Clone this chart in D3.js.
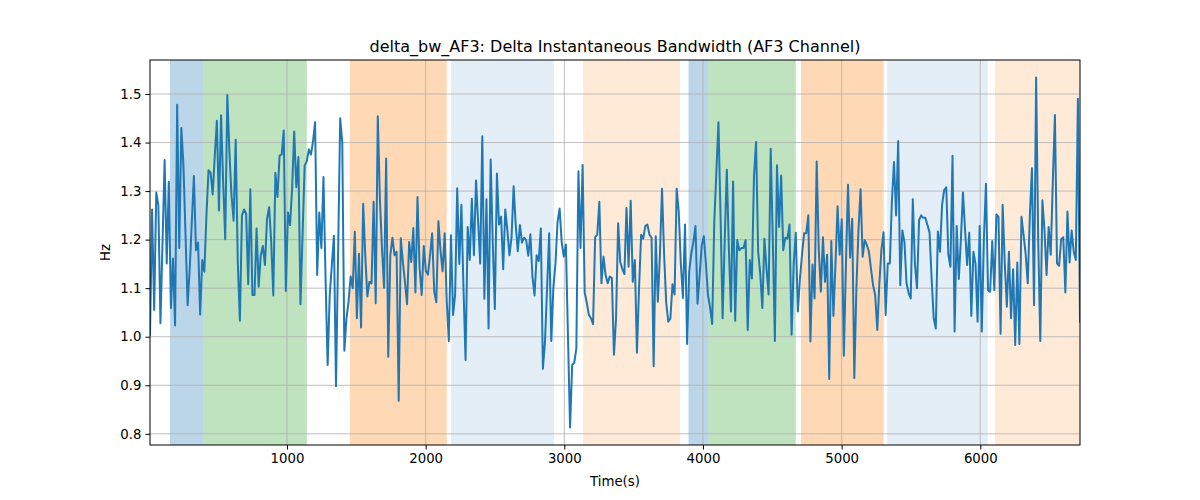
<!DOCTYPE html>
<html>
<head>
<meta charset="utf-8">
<script src="https://cdn.jsdelivr.net/npm/d3@7"></script>
<style>
  body { margin: 0; background: #fff; }
  svg { display: block; font-family: "DejaVu Sans", sans-serif; }
</style>
</head>
<body>
<svg id="chart" width="1200" height="500"></svg>
<script>
const title = "delta_bw_AF3: Delta Instantaneous Bandwidth (AF3 Channel)";
const xLabel = "Time(s)";
const yLabel = "Hz";
const xTicks = [1000, 2000, 3000, 4000, 5000, 6000];
const yTicks = [0.8, 0.9, 1.0, 1.1, 1.2, 1.3, 1.4, 1.5];
const timeStart = 12;
const timeEnd = 6719;

const values = [
  1.004, 1.262, 1.055, 1.297, 1.271, 1.028, 1.195, 1.364, 1.151, 1.319, 1.059, 1.161, 1.023, 1.478, 1.183, 1.430, 1.353, 1.209, 1.065, 1.14,
  1.236, 1.331, 1.178, 1.194, 1.046, 1.158, 1.134, 1.25, 1.343, 1.338, 1.293, 1.373, 1.445, 1.26, 1.456, 1.319, 1.201, 1.498, 1.38, 1.291,
  1.239, 1.406, 1.154, 1.033, 1.25, 1.262, 1.254, 1.108, 1.304, 1.086, 1.086, 1.223, 1.103, 1.168, 1.187, 1.148, 1.243, 1.267, 1.195, 1.085,
  1.338, 1.288, 1.373, 1.375, 1.425, 1.094, 1.256, 1.23, 1.305, 1.423, 1.308, 1.37, 1.067,
  1.21, 1.353, 1.361, 1.386, 1.375, 1.402, 1.442, 1.127, 1.256, 1.183, 1.329, 1.12, 0.942, 1.086, 1.147, 1.208, 0.898, 1.17, 1.45, 1.40,
  0.971, 1.038, 1.072, 1.124, 1.10, 1.216, 1.038, 1.171, 1.019, 1.274, 1.168, 1.083, 1.113, 1.11, 1.278, 1.069, 1.454, 1.284, 1.182, 1.101,
  1.367, 0.959, 1.168, 1.204, 1.168, 1.175, 0.868, 1.203, 1.154, 1.113, 1.067, 1.195, 1.154, 1.224, 1.091, 1.288, 1.141, 1.086, 1.187, 1.135,
  1.128, 1.168, 1.213, 1.093, 1.071, 1.238, 1.178, 1.135, 1.213, 1.072, 0.991, 1.209,
  1.045, 1.086, 1.306, 1.15, 1.272, 1.10, 0.952, 1.226, 1.158, 1.284, 1.168, 1.322, 1.237, 1.151, 1.413, 1.078, 1.283, 1.017, 1.365, 1.195,
  1.057, 1.336, 1.231, 1.247, 1.139, 1.262, 1.219, 1.168, 1.205, 1.31, 1.23, 1.176, 1.23, 1.194, 1.204, 1.199, 1.167, 1.211, 1.124, 1.085,
  1.168, 1.156, 1.223, 0.934, 0.99, 1.10, 1.213, 0.991, 1.10, 1.15, 1.236, 1.264, 1.195, 1.165, 1.19, 1.0, 0.813, 0.942, 0.946, 0.976,
  1.341, 1.183, 1.354, 1.091, 1.07, 1.045, 1.038, 1.026, 1.205, 1.21, 1.278, 1.11,
  1.165, 1.127, 1.11, 1.124, 1.121, 0.963, 1.038, 1.234, 1.154, 1.14, 1.129, 1.265, 1.144, 1.28, 1.113, 1.158, 0.967, 1.10, 1.21, 1.202,
  1.228, 1.231, 1.21, 1.204, 0.939, 1.207, 1.072, 1.17, 1.305, 1.17, 1.07, 1.031, 1.037, 1.108, 1.087, 1.305, 1.257, 1.15, 1.08, 1.231,
  0.985, 1.134, 1.171, 1.195, 1.228, 1.068, 1.127, 1.188, 1.207, 1.15, 1.086, 1.06, 1.026, 1.236, 1.339, 1.442, 1.25, 1.038, 1.2, 1.344,
  1.18, 1.052, 1.32, 1.033, 1.199, 1.178, 1.183, 1.183, 1.199, 1.014, 1.158, 1.12,
  1.33, 1.401, 1.175, 1.13, 1.059, 1.202, 1.14, 1.087, 1.387, 1.2, 0.991, 1.353, 1.226, 1.332, 1.178, 1.204, 1.202, 1.231, 1.004, 1.15,
  1.214, 1.052, 1.12, 1.17, 1.213, 1.213, 1.25, 0.99, 1.149, 1.079, 1.361, 1.18, 1.093, 1.205, 1.113, 1.169, 0.913, 1.197, 1.043, 1.15,
  1.269, 1.169, 1.242, 0.961, 1.15, 1.313, 1.163, 1.243, 0.915, 1.10, 1.22, 1.304, 1.165, 1.199, 1.189, 1.175, 1.14, 1.106, 1.086, 1.014,
  1.11, 1.18, 1.215, 1.045, 1.151, 1.151, 1.28, 1.36, 1.25, 1.403, 1.106, 1.219,
  1.195, 1.11, 1.09, 1.079, 1.283, 1.15, 1.10, 1.24, 1.25, 1.245, 1.245, 1.23, 1.215, 1.12, 1.038, 1.017, 1.217, 1.175, 1.271, 1.302,
  1.308, 1.169, 1.144, 1.373, 1.011, 1.228, 1.119, 1.2, 1.297, 1.22, 1.148, 1.214, 1.043, 1.175, 1.15, 1.031, 1.228, 1.011, 1.2, 1.315,
  1.096, 1.093, 1.197, 1.096, 1.252, 1.247, 1.006, 1.272, 1.15, 1.062, 1.175, 1.038, 1.139, 0.983, 1.153, 0.985, 1.247, 1.21, 1.17, 1.11,
  1.25, 1.347, 1.065, 1.534, 1.2, 0.991, 1.281, 1.22, 1.127, 1.226, 1.169, 1.32, 1.457, 1.151, 1.146, 1.201, 1.205, 1.091, 1.258, 1.153,
  1.219, 1.175, 1.158, 1.49, 1.031
];

const spanStarts = [156, 394, 1453, 2183, 3135, 3896, 4039, 4707, 5329, 6106];
const spanEnds   = [394, 1143, 2152, 2926, 3834, 4039, 4669, 5303, 6053, 6730];
const spanKinds  = ["blue", "green", "orange", "lightblue", "lightorange", "blue", "green", "orange", "lightblue", "lightorange"];

const spanFill = {
  blue: "rgba(31,119,180,0.3)",
  green: "rgba(44,160,44,0.3)",
  orange: "rgba(255,127,14,0.3)",
  lightblue: "rgba(31,119,180,0.12)",
  lightorange: "rgba(255,127,14,0.16)"
};

const W = 1200, H = 500;
const m = { left: 150, right: 120, top: 60, bottom: 55 };
const iw = W - m.left - m.right, ih = H - m.top - m.bottom;

const n = values.length;
const data = values.map((v, i) => ({ t: timeStart + (timeEnd - timeStart) * i / (n - 1), v }));

const x = d3.scaleLinear().domain([timeStart, timeEnd]).range([0, iw]);
const yMin = d3.min(values), yMax = d3.max(values), pad = (yMax - yMin) * 0.05;
const y = d3.scaleLinear().domain([yMin - pad, yMax + pad]).range([ih, 0]);

const svg = d3.select("#chart");
const g = svg.append("g").attr("transform", `translate(${m.left},${m.top})`);

g.append("defs").append("clipPath").attr("id", "clip")
  .append("rect").attr("width", iw).attr("height", ih);

const spans = spanStarts.map((s, i) => ({ s, e: spanEnds[i], k: spanKinds[i] }));
g.append("g").attr("clip-path", "url(#clip)").selectAll("rect").data(spans).join("rect")
  .attr("x", d => x(d.s)).attr("width", d => x(d.e) - x(d.s))
  .attr("y", 0).attr("height", ih)
  .attr("fill", d => spanFill[d.k]);

// grid
g.append("g").selectAll("line").data(xTicks).join("line")
  .attr("x1", d => x(d)).attr("x2", d => x(d)).attr("y1", 0).attr("y2", ih)
  .attr("stroke", "#b0b0b0").attr("stroke-width", 0.8);
g.append("g").selectAll("line").data(yTicks).join("line")
  .attr("y1", d => y(d)).attr("y2", d => y(d)).attr("x1", 0).attr("x2", iw)
  .attr("stroke", "#b0b0b0").attr("stroke-width", 0.8);

// line
g.append("path").datum(data)
  .attr("clip-path", "url(#clip)")
  .attr("fill", "none").attr("stroke", "#1f77b4").attr("stroke-width", 2)
  .attr("stroke-linejoin", "round").attr("stroke-linecap", "square")
  .attr("d", d3.line().x(d => x(d.t)).y(d => y(d.v)));

// axes
const xAxis = g.append("g").attr("transform", `translate(0,${ih})`)
  .call(d3.axisBottom(x).tickValues(xTicks).tickFormat(d3.format("d")).tickSizeOuter(0).tickSize(4.5).tickPadding(4));
const yAxis = g.append("g")
  .call(d3.axisLeft(y).tickValues(yTicks).tickFormat(d3.format(".1f")).tickSizeOuter(0).tickSize(4.5).tickPadding(4));
[xAxis, yAxis].forEach(a => {
  a.select(".domain").remove();
  a.selectAll("text").attr("font-size", 13.3).attr("fill", "#000").attr("font-family", "DejaVu Sans");
  a.selectAll("line").attr("stroke", "#000").attr("stroke-width", 1);
});

g.append("rect").attr("width", iw).attr("height", ih)
  .attr("fill", "none").attr("stroke", "#000").attr("stroke-width", 1);

svg.append("text").attr("x", m.left + iw / 2).attr("y", 52)
  .attr("text-anchor", "middle").attr("font-size", 16).text(title);
svg.append("text").attr("x", m.left + iw / 2).attr("y", 486)
  .attr("text-anchor", "middle").attr("font-size", 13.3).text(xLabel);
svg.append("text").attr("transform", `translate(110,${m.top + ih / 2}) rotate(-90)`)
  .attr("text-anchor", "middle").attr("font-size", 13.3).text(yLabel);
</script>
</body>
</html>
